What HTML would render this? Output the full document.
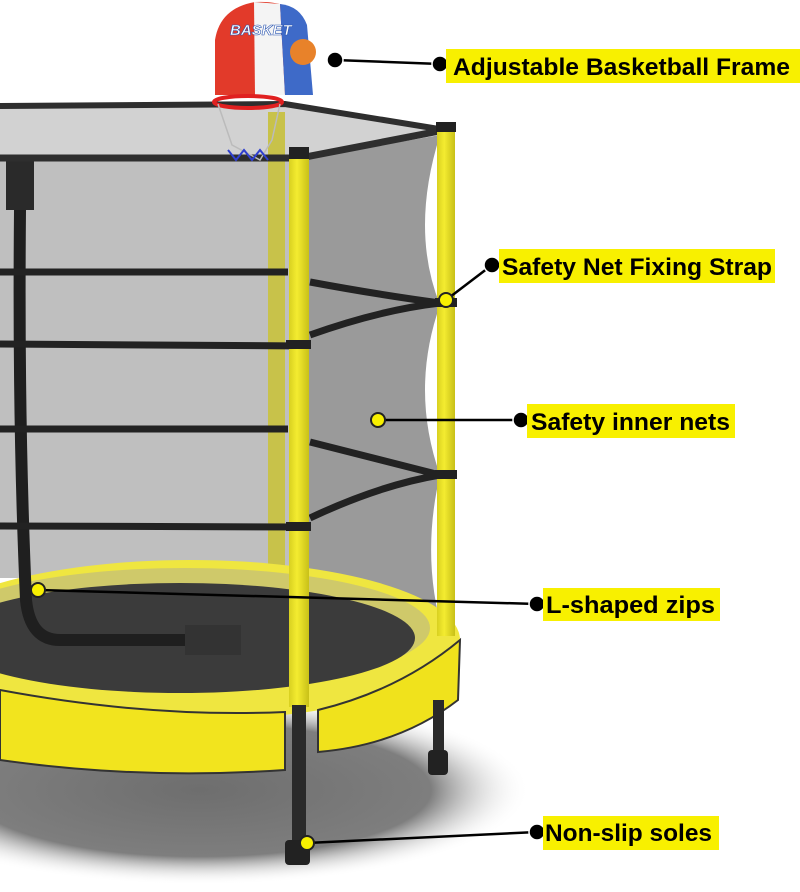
<!DOCTYPE html>
<html><head><meta charset="utf-8"><style>
html,body{margin:0;padding:0;background:#fff;}
svg{display:block}
.t{font-family:"Liberation Sans",sans-serif;font-weight:bold;font-size:24px;fill:#000;}
</style></head><body>
<svg width="800" height="892" viewBox="0 0 800 892" xmlns="http://www.w3.org/2000/svg">
<defs>
<radialGradient id="sh" cx="0.5" cy="0.5" r="0.5">
<stop offset="0" stop-color="#6e6e6e"/><stop offset="0.7" stop-color="#7e7e7e"/><stop offset="1" stop-color="#fff" stop-opacity="0"/>
</radialGradient>
<linearGradient id="pole" x1="0" x2="1"><stop offset="0" stop-color="#d8d020"/><stop offset="0.4" stop-color="#f4ec30"/><stop offset="1" stop-color="#c8c018"/></linearGradient>
</defs>
<ellipse cx="200" cy="790" rx="330" ry="95" fill="url(#sh)"/>
<polygon points="0,106 285,104 445,130 308,158 0,158" fill="#d2d2d2"/>
<rect x="0" y="158" width="300" height="420" fill="#bfbfbf"/>
<path d="M308,158 L440,135 Q410,230 440,305 Q410,390 440,475 Q420,560 445,640 L308,640 Z" fill="#9a9a9a"/>
<rect x="268" y="112" width="17" height="470" fill="#c8c24a"/>
<ellipse cx="190" cy="640" rx="270" ry="80" fill="#efe640"/>
<ellipse cx="185" cy="628" rx="245" ry="60" fill="#cfc96a"/>
<ellipse cx="180" cy="638" rx="235" ry="55" fill="#3b3b3b"/>
<path d="M0,690 Q150,718 285,712 L285,770 Q140,780 0,760 Z" fill="#f2e41e" stroke="#333" stroke-width="2"/>
<path d="M318,710 Q400,690 460,640 L458,700 Q400,745 318,752 Z" fill="#f0e21c" stroke="#333" stroke-width="2"/>
<rect x="6" y="158" width="28" height="52" fill="#2a2a2a"/>
<path d="M20,210 Q18,420 26,600 Q30,640 60,640 L190,640" stroke="#1f1f1f" stroke-width="12" fill="none"/>
<rect x="185" y="625" width="56" height="30" fill="#333"/>
<path d="M0,106 L285,104 L445,130" stroke="#2e2e2e" stroke-width="6" fill="none"/>
<path d="M0,158 L300,158 L445,130" stroke="#2e2e2e" stroke-width="7" fill="none"/>
<g stroke="#222" stroke-width="7" fill="none">
<line x1="0" y1="272" x2="288" y2="272"/>
<line x1="0" y1="344" x2="308" y2="346"/>
<line x1="0" y1="429" x2="288" y2="429"/>
<line x1="0" y1="526" x2="308" y2="527"/>
<path d="M310,282 Q380,295 440,303 Q380,310 310,335"/>
<path d="M310,442 Q380,460 440,475 Q380,485 310,518"/>
</g>
<rect x="437" y="128" width="18" height="508" fill="url(#pole)"/>
<rect x="436" y="122" width="20" height="10" fill="#222"/>
<rect x="289" y="152" width="20" height="555" fill="url(#pole)"/>
<rect x="289" y="147" width="20" height="12" fill="#222"/>
<rect x="286" y="340" width="25" height="9" fill="#222"/>
<rect x="286" y="522" width="25" height="9" fill="#222"/>
<rect x="435" y="298" width="22" height="9" fill="#222"/>
<rect x="435" y="470" width="22" height="9" fill="#222"/>
<rect x="292" y="705" width="14" height="140" fill="#2a2a2a"/>
<rect x="285" y="840" width="25" height="25" rx="4" fill="#222"/>
<rect x="433" y="700" width="11" height="55" fill="#2a2a2a"/>
<rect x="428" y="750" width="20" height="25" rx="4" fill="#222"/>
<path d="M215,95 L215,40 Q220,8 255,2 Q295,0 305,25 L310,95 Z" fill="#e23a2a"/>
<path d="M254,2 L280,4 L285,95 L255,95 Z" fill="#f4f4f4"/>
<path d="M280,4 Q300,6 307,25 L313,95 L285,95 Z" fill="#3e6ac8"/>
<text x="230" y="35" font-family="Liberation Sans" font-weight="bold" font-style="italic" font-size="15" fill="#fff" stroke="#2a55b0" stroke-width="0.6">BASKET</text>
<circle cx="303" cy="52" r="13" fill="#e8822a"/>
<ellipse cx="248" cy="102" rx="34" ry="6" fill="none" stroke="#e02020" stroke-width="4"/>
<path d="M218,104 L232,145 L260,160 L272,140 L280,104" fill="none" stroke="#bbb" stroke-width="1.5"/>
<path d="M228,150 L236,160 L244,150 L252,160 L260,150 L268,160" fill="none" stroke="#3040d0" stroke-width="2"/>
<g stroke="#000" stroke-width="2.5">
<line x1="335" y1="60" x2="440" y2="64"/>
<line x1="446" y1="300" x2="492" y2="265"/>
<line x1="378" y1="420" x2="521" y2="420"/>
<line x1="38" y1="590" x2="537" y2="604"/>
<line x1="307" y1="843" x2="537" y2="832"/>
</g>
<g fill="#f8f000" stroke="#222" stroke-width="2">
<circle cx="446" cy="300" r="7"/>
<circle cx="378" cy="420" r="7"/>
<circle cx="38" cy="590" r="7"/>
<circle cx="307" cy="843" r="7"/>
</g>
<g fill="#000" stroke="#fff" stroke-width="1.5">
<circle cx="335" cy="60" r="8"/>
<circle cx="440" cy="64" r="8"/>
<circle cx="492" cy="265" r="8"/>
<circle cx="521" cy="420" r="8"/>
<circle cx="537" cy="604" r="8"/>
<circle cx="537" cy="832" r="8"/>
</g>
<rect x="446" y="49" width="354" height="34" fill="#f8f000"/>
<text class="t" x="453" y="75" textLength="337" lengthAdjust="spacingAndGlyphs">Adjustable Basketball Frame</text>
<rect x="499" y="249" width="276" height="34" fill="#f8f000"/>
<text class="t" x="502" y="275" textLength="270" lengthAdjust="spacingAndGlyphs">Safety Net Fixing Strap</text>
<rect x="527" y="404" width="208" height="34" fill="#f8f000"/>
<text class="t" x="531" y="430" textLength="199" lengthAdjust="spacingAndGlyphs">Safety inner nets</text>
<rect x="543" y="588" width="177" height="33" fill="#f8f000"/>
<text class="t" x="546" y="613" textLength="169" lengthAdjust="spacingAndGlyphs">L-shaped zips</text>
<rect x="543" y="816" width="176" height="34" fill="#f8f000"/>
<text class="t" x="545" y="841" textLength="167" lengthAdjust="spacingAndGlyphs">Non-slip soles</text>
</svg>
</body></html>
